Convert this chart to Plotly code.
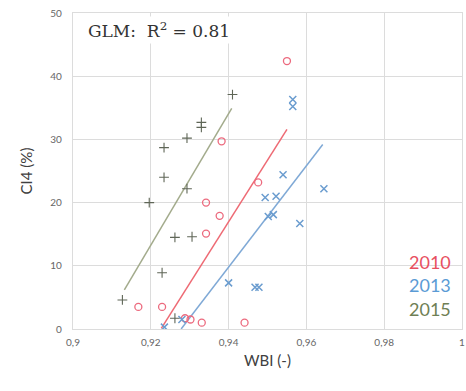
import plotly.graph_objects as go

# WBI (x) vs CI4 (%) observations per survey year
wbi_2010 = [0.9550, 0.9382, 0.9342, 0.9377, 0.9342, 0.9476, 0.9168, 0.9229, 0.9331, 0.9441, 0.9288, 0.9302]
ci4_2010 = [42.4, 29.7, 20.0, 17.9, 15.1, 23.2, 3.5, 3.5, 1.0, 1.0, 1.7, 1.5]

wbi_2013 = [0.9565, 0.9565, 0.9540, 0.9645, 0.9494, 0.9522, 0.9502, 0.9515, 0.9583, 0.9400, 0.9468, 0.9478, 0.9280, 0.9235]
ci4_2013 = [36.3, 35.2, 24.4, 22.2, 20.8, 21.0, 17.8, 18.1, 16.7, 7.3, 6.6, 6.6, 1.5, 0.3]

wbi_2015 = [0.9410, 0.9330, 0.9330, 0.9293, 0.9234, 0.9234, 0.9293, 0.9196, 0.9262, 0.9306, 0.9229, 0.9127, 0.9262]
ci4_2015 = [37.1, 32.7, 31.9, 30.2, 28.7, 24.0, 22.2, 20.0, 14.5, 14.6, 8.9, 4.6, 1.7]

# Fitted GLM lines (start/end of each year's fit)
fit_x_2010 = [0.9227, 0.9550]
fit_y_2010 = [0.1, 31.6]
fit_x_2013 = [0.9278, 0.9642]
fit_y_2013 = [0.0, 29.2]
fit_x_2015 = [0.9132, 0.9408]
fit_y_2015 = [6.2, 34.9]

x_tickvals = [0.90, 0.92, 0.94, 0.96, 0.98, 1.00]
x_ticktext = ["0,9", "0,92", "0,94", "0,96", "0,98", "1"]
y_tickvals = [0, 10, 20, 30, 40, 50]

years = ["2010", "2013", "2015"]
c_red, c_blue, c_green = "#e8505f", "#5b9bd5", "#6f7f55"

fig = go.Figure()

# regression lines
fig.add_trace(go.Scatter(x=fit_x_2015, y=fit_y_2015, mode="lines",
                         line=dict(color="#a3ab8c", width=1.5), showlegend=False))
fig.add_trace(go.Scatter(x=fit_x_2010, y=fit_y_2010, mode="lines",
                         line=dict(color="#ee6a74", width=1.5), showlegend=False))
fig.add_trace(go.Scatter(x=fit_x_2013, y=fit_y_2013, mode="lines",
                         line=dict(color="#7fa9d6", width=1.5), showlegend=False))

# observations
fig.add_trace(go.Scatter(x=wbi_2015, y=ci4_2015, mode="markers", showlegend=False,
                         marker=dict(symbol="cross-thin", size=7,
                                     line=dict(color="#5f6657", width=1.1))))
fig.add_trace(go.Scatter(x=wbi_2010, y=ci4_2010, mode="markers", showlegend=False,
                         marker=dict(symbol="circle-open", size=7,
                                     line=dict(color="#ec6a7e", width=1.3), color="#ec6a7e")))
fig.add_trace(go.Scatter(x=wbi_2013, y=ci4_2013, mode="markers", showlegend=False,
                         marker=dict(symbol="x-thin", size=7,
                                     line=dict(color="#6a9ccf", width=1.5))))

# year labels in the lower-right corner
for i, (yr, col) in enumerate(zip(years, [c_red, c_blue, c_green])):
    fig.add_annotation(x=0.976, xref="paper", xanchor="right", y=0.212 - i * 0.074, yref="paper",
                       yanchor="middle", text=yr, showarrow=False,
                       font=dict(family="Lato", size=18, color=col))

fig.add_annotation(x=0.032, xref="paper", xanchor="left", y=0.945, yref="paper",
                   yanchor="middle", text="GLM:  R<sup>2</sup> = 0.81", showarrow=False,
                   bgcolor="white", borderpad=2,
                   font=dict(family="DejaVu Serif", size=17, color="#333333"))

grid = "#dcdcdc"
fig.update_layout(
    width=466, height=391,
    margin=dict(l=73, r=1, t=13, b=62),
    paper_bgcolor="white", plot_bgcolor="white",
    font=dict(family="Lato", color="#595959"),
    xaxis=dict(range=[0.9, 1.0], tickvals=x_tickvals, ticktext=x_ticktext,
               showgrid=True, gridcolor=grid, gridwidth=1.2,
               showline=True, linecolor=grid, linewidth=1.2, mirror=True,
               zeroline=False, ticks="", ticklabelstandoff=4, ticklabeloverflow="allow",
               tickfont=dict(size=10, color="#666666"),
               title=dict(text="WBI (-)", font=dict(size=15, color="#404040"), standoff=8)),
    yaxis=dict(range=[0, 50], tickvals=y_tickvals,
               showgrid=True, gridcolor=grid, gridwidth=1.2,
               showline=True, linecolor=grid, linewidth=1.2, mirror=True,
               zeroline=False, ticks="", ticklabelstandoff=8,
               tickfont=dict(size=10, color="#666666"),
               title=dict(text="CI4 (%)", font=dict(size=15, color="#404040"), standoff=14)),
)

fig.write_html("out.html")
